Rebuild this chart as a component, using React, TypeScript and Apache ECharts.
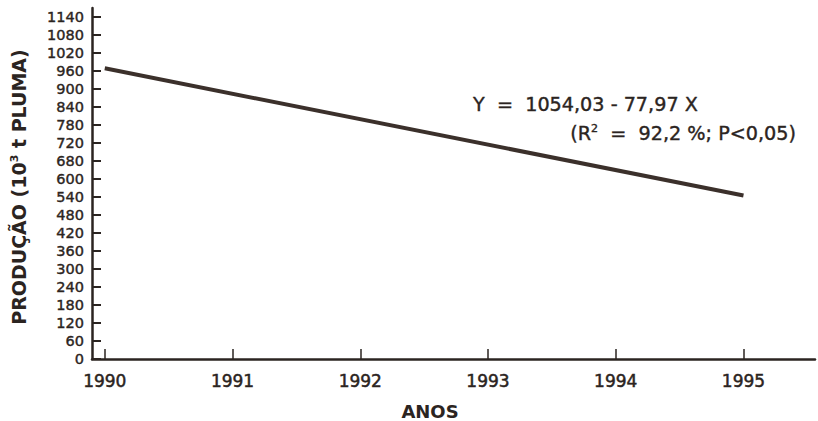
import React, { useEffect, useRef } from "react";
import * as echarts from "echarts";

const years = [1990, 1991, 1992, 1993, 1994, 1995];
const yTicks = [0, 60, 120, 180, 240, 300, 360, 420, 480, 540, 600, 680, 720, 780, 840, 900, 960, 1020, 1080, 1140];
const yTickPositions = [0, 60, 120, 180, 240, 300, 360, 420, 480, 540, 600, 660, 720, 780, 840, 900, 960, 1020, 1080, 1140];
const lineYears = [1990, 1995];
const lineValues = [969, 545];

const INK = "#2b2421";
const FONT = "DejaVu Sans";

export default function App() {
  const ref = useRef<HTMLDivElement>(null);
  useEffect(() => {
    if (!ref.current) return;
    const chart = echarts.init(ref.current, null, { renderer: "svg" });
    chart.setOption({
      animation: false,
      backgroundColor: "#ffffff",
      grid: { left: 92, top: 8, right: 3, bottom: 62 },
      xAxis: {
        type: "value",
        min: 1989.9,
        max: 1995.56,
        axisLine: { show: true, lineStyle: { color: INK, width: 2.5 } },
        axisTick: { show: true, inside: true, length: 10, lineStyle: { color: INK, width: 1.5 }, customValues: years },
        axisLabel: {
          customValues: years,
          formatter: (v: number) => String(v),
          color: INK,
          fontFamily: FONT,
          fontSize: 17,
          textBorderColor: INK,
          textBorderWidth: 0.5,
          margin: 13,
        },
        splitLine: { show: false },
      },
      yAxis: {
        type: "value",
        min: 0,
        max: 1170,
        axisLine: { show: true, lineStyle: { color: INK, width: 2.5 } },
        axisTick: { show: true, inside: true, length: 9, lineStyle: { color: INK, width: 2 }, customValues: yTickPositions },
        axisLabel: {
          customValues: yTickPositions,
          formatter: (v: number) => String(yTicks[yTickPositions.indexOf(v)] ?? v),
          color: INK,
          fontFamily: FONT,
          fontSize: 14.5,
          textBorderColor: INK,
          textBorderWidth: 0.4,
          margin: 8,
        },
        splitLine: { show: false },
      },
      series: [
        {
          type: "line",
          data: lineYears.map((y, i) => [y, lineValues[i]]),
          symbol: "none",
          lineStyle: { color: "#3b302b", width: 4 },
        },
      ],
      graphic: [
        {
          type: "text",
          x: 19,
          y: 187,
          rotation: Math.PI / 2,
          style: {
            text: "PRODUÇÃO (10{sup|3} t PLUMA)",
            fill: INK,
            font: `bold 19px "${FONT}"`,
            align: "center",
            verticalAlign: "middle",
            rich: {
              sup: { fontSize: 11, fontWeight: "bold", fontFamily: FONT, fill: INK, padding: [0, 0, 9, 0] },
            },
          },
        },
        {
          type: "text",
          x: 430,
          y: 411,
          style: {
            text: "ANOS",
            fill: INK,
            font: `bold 18px "${FONT}"`,
            align: "center",
            verticalAlign: "middle",
          },
        },
        {
          type: "text",
          x: 473,
          y: 104,
          style: {
            text: "Y  =  1054,03 - 77,97 X",
            fill: INK,
            font: `19.2px "${FONT}"`,
            stroke: INK,
            lineWidth: 0.4,
            align: "left",
            verticalAlign: "middle",
          },
        },
        {
          type: "text",
          x: 796,
          y: 133,
          style: {
            text: "(R{sup|2}  =  92,2 %; P<0,05)",
            fill: INK,
            font: `19.2px "${FONT}"`,
            stroke: INK,
            lineWidth: 0.4,
            align: "right",
            verticalAlign: "middle",
            rich: {
              sup: { fontSize: 11, fontFamily: FONT, fill: INK, padding: [0, 0, 10, 0] },
            },
          },
        },
      ],
    });
    return () => chart.dispose();
  }, []);
  return <div ref={ref} style={{ position: "fixed", left: 0, top: 0, width: 818, height: 421 }} />;
}
